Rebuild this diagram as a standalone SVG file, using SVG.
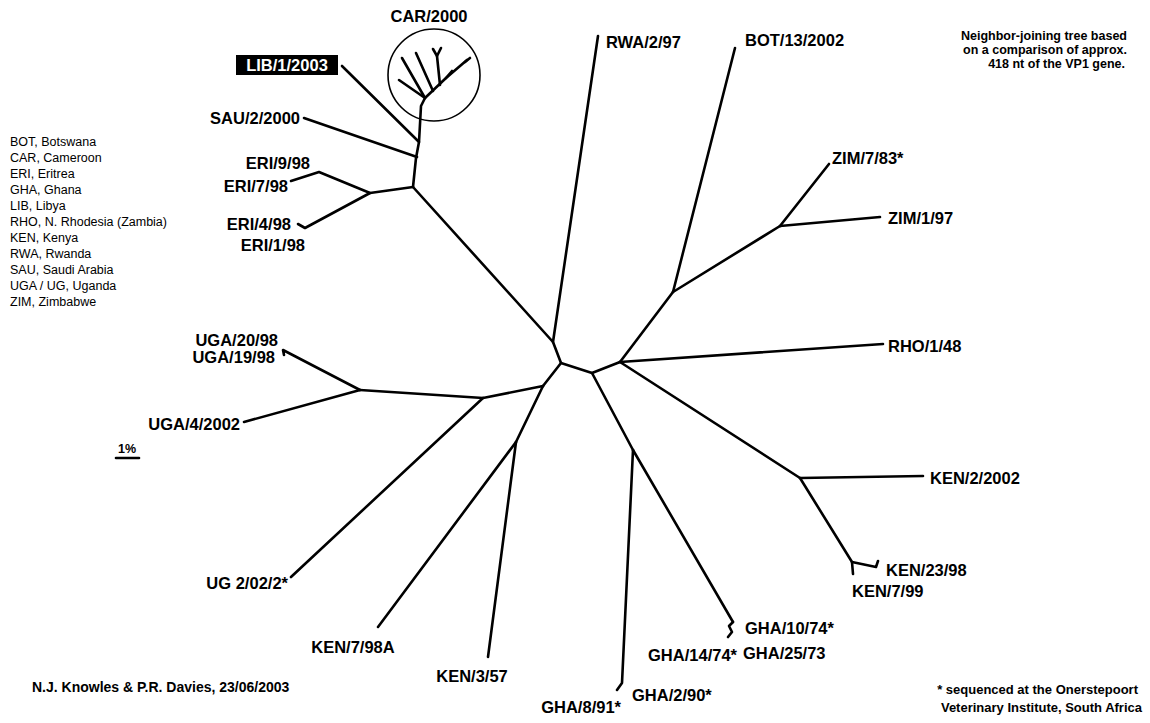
<svg xmlns="http://www.w3.org/2000/svg" width="1150" height="723" viewBox="0 0 1150 723">
<style>
.br{fill:none;stroke:#000;stroke-width:2.6;stroke-linecap:round;stroke-linejoin:round}
.thin{fill:none;stroke:#000;stroke-width:1.6}
.lb{font-family:"Liberation Sans",Arial,sans-serif;font-weight:bold;font-size:16.5px;fill:#000}
.sm{font-family:"Liberation Sans",Arial,sans-serif;font-size:12.5px;fill:#000}
.nt{font-family:"Liberation Sans",Arial,sans-serif;font-weight:bold;font-size:12.5px;fill:#000}
</style>
<rect width="1150" height="723" fill="#fff"/>
<g id="connectors">
<circle class="thin" cx="434" cy="75" r="46"/>
<polyline class="br" points="413,187 416,158 419,142 421,106 425,98 446,78 467,60"/>
<line class="br" x1="465" y1="62" x2="470" y2="58"/>
<line class="br" x1="425" y1="98" x2="399" y2="80"/>
<line class="br" x1="425" y1="98" x2="402" y2="58"/>
<line class="br" x1="433" y1="91" x2="416" y2="53"/>
<polyline class="br" points="440,85 437,56 433,49"/>
<line class="br" x1="437" y1="56" x2="441" y2="48"/>
<line class="br" x1="446" y1="78" x2="452" y2="71"/>
<line class="br" x1="342" y1="66" x2="419" y2="142"/>
<line class="br" x1="304" y1="118" x2="417" y2="157"/>
<polyline class="br" points="413,187 370,193 319,172 291,181"/>
<polyline class="br" points="370,193 305,228 298,224"/>
<line class="br" x1="413" y1="187" x2="553" y2="342"/>
<polyline class="br" points="598,36 553,342 561,363 592,373 620,362"/>
<line class="br" x1="561" y1="363" x2="543" y2="386"/>
<polyline class="br" points="543,386 483,398 360,390"/>
<polyline class="br" points="360,390 283,350 284,355"/>
<line class="br" x1="360" y1="390" x2="244" y2="422"/>
<line class="br" x1="483" y1="398" x2="291" y2="577"/>
<line class="br" x1="543" y1="386" x2="516" y2="442"/>
<line class="br" x1="516" y1="442" x2="378" y2="627"/>
<line class="br" x1="516" y1="442" x2="488" y2="657"/>
<line class="br" x1="592" y1="373" x2="633" y2="450"/>
<line class="br" x1="633" y1="450" x2="733" y2="622"/>
<path class="br" d="M733,622 L729,626 L732,632 L728,637"/>
<polyline class="br" points="633,450 622,683 617,690"/>
<line class="br" x1="620" y1="362" x2="673" y2="292"/>
<line class="br" x1="673" y1="292" x2="735" y2="48"/>
<line class="br" x1="673" y1="292" x2="780" y2="226"/>
<line class="br" x1="780" y1="226" x2="829" y2="164"/>
<line class="br" x1="780" y1="226" x2="880" y2="217"/>
<line class="br" x1="620" y1="362" x2="883" y2="344"/>
<line class="br" x1="620" y1="362" x2="800" y2="478"/>
<line class="br" x1="800" y1="478" x2="923" y2="476"/>
<polyline class="br" points="800,478 852,562 876,567 878,561"/>
<line class="br" x1="852" y1="562" x2="853" y2="574"/>
<line class="br" x1="116" y1="458" x2="139" y2="458"/>
</g>
<g id="n-car"><text class="lb" x="429" y="22" text-anchor="middle">CAR/2000</text></g>
<g id="n-lib"><rect x="236" y="55" width="102" height="20" fill="#000"/><text class="lb" x="287" y="71" text-anchor="middle" style="fill:#fff">LIB/1/2003</text></g>
<g id="n-sau"><text class="lb" x="300" y="124" text-anchor="end">SAU/2/2000</text></g>
<g id="n-eri9"><text class="lb" x="310" y="169" text-anchor="end">ERI/9/98</text></g>
<g id="n-eri7"><text class="lb" x="288" y="192" text-anchor="end">ERI/7/98</text></g>
<g id="n-eri4"><text class="lb" x="291" y="230" text-anchor="end">ERI/4/98</text></g>
<g id="n-eri1"><text class="lb" x="305" y="251" text-anchor="end">ERI/1/98</text></g>
<g id="n-rwa"><text class="lb" x="606" y="48">RWA/2/97</text></g>
<g id="n-bot"><text class="lb" x="745" y="46">BOT/13/2002</text></g>
<g id="n-zim7"><text class="lb" x="832" y="164">ZIM/7/83*</text></g>
<g id="n-zim1"><text class="lb" x="888" y="224">ZIM/1/97</text></g>
<g id="n-rho"><text class="lb" x="888" y="352">RHO/1/48</text></g>
<g id="n-ken2"><text class="lb" x="930" y="484">KEN/2/2002</text></g>
<g id="n-ken23"><text class="lb" x="886" y="576">KEN/23/98</text></g>
<g id="n-ken7"><text class="lb" x="852" y="597">KEN/7/99</text></g>
<g id="n-gha10"><text class="lb" x="745" y="634">GHA/10/74*</text></g>
<g id="n-gha25"><text class="lb" x="743" y="659">GHA/25/73</text></g>
<g id="n-gha14"><text class="lb" x="737" y="661" text-anchor="end">GHA/14/74*</text></g>
<g id="n-gha2"><text class="lb" x="632" y="701">GHA/2/90*</text></g>
<g id="n-gha8"><text class="lb" x="621" y="713" text-anchor="end">GHA/8/91*</text></g>
<g id="n-ken3"><text class="lb" x="472" y="682" text-anchor="middle">KEN/3/57</text></g>
<g id="n-ken798a"><text class="lb" x="353" y="653" text-anchor="middle">KEN/7/98A</text></g>
<g id="n-ug"><text class="lb" x="288" y="589" text-anchor="end">UG 2/02/2*</text></g>
<g id="n-uga4"><text class="lb" x="240" y="430" text-anchor="end">UGA/4/2002</text></g>
<g id="n-uga20"><text class="lb" x="278" y="346" text-anchor="end">UGA/20/98</text></g>
<g id="n-uga19"><text class="lb" x="275" y="363" text-anchor="end">UGA/19/98</text></g>
<g id="legend">
<text class="sm" x="10" y="146">BOT, Botswana</text>
<text class="sm" x="10" y="162">CAR, Cameroon</text>
<text class="sm" x="10" y="178">ERI, Eritrea</text>
<text class="sm" x="10" y="194">GHA, Ghana</text>
<text class="sm" x="10" y="210">LIB, Libya</text>
<text class="sm" x="10" y="226">RHO, N. Rhodesia (Zambia)</text>
<text class="sm" x="10" y="242">KEN, Kenya</text>
<text class="sm" x="10" y="258">RWA, Rwanda</text>
<text class="sm" x="10" y="274">SAU, Saudi Arabia</text>
<text class="sm" x="10" y="290">UGA / UG, Uganda</text>
<text class="sm" x="10" y="306">ZIM, Zimbabwe</text>
</g>
<g id="notes">
<text class="nt" x="1127" y="40" text-anchor="end">Neighbor-joining tree based</text>
<text class="nt" x="1127" y="54" text-anchor="end">on a comparison of approx.</text>
<text class="nt" x="1125" y="68" text-anchor="end">418 nt of the VP1 gene.</text>
<text class="nt" x="118" y="453">1%</text>
<text class="nt" x="32" y="692" style="font-size:14px">N.J. Knowles &amp; P.R. Davies, 23/06/2003</text>
<text class="nt" x="1138" y="694" text-anchor="end" style="font-size:13px">* sequenced at the Onerstepoort</text>
<text class="nt" x="1142" y="712" text-anchor="end" style="font-size:13px">Veterinary Institute, South Africa</text>
</g>
</svg>
